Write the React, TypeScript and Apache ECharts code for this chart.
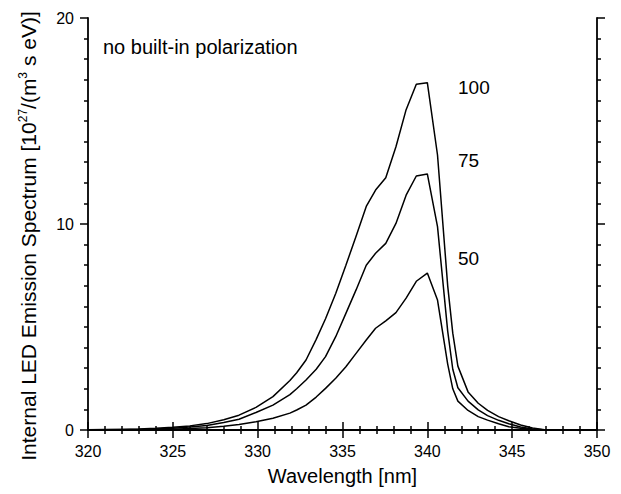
import React, { useEffect, useRef } from "react";
import * as echarts from "echarts";

const wavelength = [320, 321, 322, 323, 324, 325, 326, 327, 328, 328.9, 329.9, 330.9, 331.9, 332.3, 332.85, 333.45, 334.0, 334.6, 335.2, 335.8, 336.4, 336.95, 337.55, 338.15, 338.75, 339.35, 340.0, 340.6, 341.2, 341.5, 341.8, 342.4, 343.0, 343.55, 344.2, 344.8, 345.5, 346.2, 347.0];

const spectrum100 = [0.01, 0.02, 0.03, 0.05, 0.08, 0.13, 0.2, 0.31, 0.5, 0.72, 1.1, 1.62, 2.4, 2.78, 3.4, 4.4, 5.4, 6.63, 8.0, 9.4, 10.85, 11.65, 12.25, 13.75, 15.55, 16.78, 16.86, 13.35, 7.0, 4.7, 3.1, 1.85, 1.3, 0.95, 0.65, 0.45, 0.24, 0.1, 0];
const spectrum75 = [0.005, 0.01, 0.02, 0.03, 0.05, 0.09, 0.14, 0.22, 0.36, 0.52, 0.85, 1.21, 1.72, 2.0, 2.43, 2.95, 3.56, 4.53, 5.66, 6.8, 8.0, 8.58, 9.06, 10.03, 11.4, 12.33, 12.43, 9.87, 4.8, 2.95, 2.05, 1.4, 0.98, 0.7, 0.47, 0.3, 0.15, 0.05, 0];
const spectrum50 = [0.003, 0.005, 0.01, 0.015, 0.025, 0.04, 0.07, 0.11, 0.18, 0.27, 0.4, 0.57, 0.82, 0.97, 1.21, 1.6, 2.02, 2.51, 3.07, 3.72, 4.37, 4.94, 5.3, 5.7, 6.4, 7.22, 7.62, 6.31, 3.2, 2.0, 1.4, 0.95, 0.65, 0.48, 0.3, 0.16, 0.08, 0.03, 0];

const curveLabels = ["100", "75", "50"];
const xTicks = { min: 320, max: 350, interval: 5 };
const yTicks = { min: 0, max: 20, interval: 10 };

const FONT = "'Liberation Sans', Arial, Helvetica, sans-serif";

export default function App() {
  const ref = useRef<HTMLDivElement>(null);
  useEffect(() => {
    if (!ref.current) return;
    const chart = echarts.init(ref.current, undefined, { renderer: "svg" });
    const pair = (ys: number[]) => wavelength.map((x, i) => [x, ys[i]]);
    const axisLine = { show: true, lineStyle: { color: "#000", width: 1.8 } };
    const tickStyle = { color: "#000", width: 1.5 };
    const baseX = {
      type: "value" as const,
      min: xTicks.min,
      max: xTicks.max,
      interval: xTicks.interval,
      axisLine,
      axisTick: { show: true, length: 8, lineStyle: tickStyle },
      minorTick: { show: true, splitNumber: 5, length: 4, lineStyle: tickStyle },
      splitLine: { show: false },
    };
    const baseY = {
      type: "value" as const,
      min: yTicks.min,
      max: yTicks.max,
      interval: yTicks.interval,
      axisLine,
      axisTick: { show: true, length: 8, lineStyle: tickStyle },
      minorTick: { show: true, splitNumber: 10, length: 4, lineStyle: tickStyle },
      splitLine: { show: false },
    };
    const series = [spectrum100, spectrum75, spectrum50].map((ys, i) => ({
      name: curveLabels[i],
      type: "line" as const,
      data: pair(ys),
      showSymbol: false,
      symbol: "none",
      lineStyle: { color: "#000", width: 1.5 },
      xAxisIndex: 0,
      yAxisIndex: 0,
      z: 3,
    }));
    const labelPos = [87, 160, 258];
    chart.setOption({
      animation: false,
      backgroundColor: "#fff",
      grid: { left: 88, right: 24, top: 18, bottom: 64, containLabel: false },
      xAxis: [
        {
          ...baseX,
          position: "bottom",
          axisLabel: { show: true, color: "#000", fontSize: 16, fontFamily: FONT, margin: 13 },
          name: "Wavelength [nm]",
          nameLocation: "middle",
          nameGap: 36,
          nameTextStyle: { color: "#000", fontSize: 20, fontFamily: FONT },
        },
        { ...baseX, position: "top", axisLabel: { show: false } },
      ],
      yAxis: [
        {
          ...baseY,
          position: "left",
          axisLabel: { show: true, color: "#000", fontSize: 16, fontFamily: FONT, margin: 14 },
        },
        { ...baseY, position: "right", axisLabel: { show: false } },
      ],
      graphic: [
        {
          type: "text",
          x: 28,
          y: 236,
          rotation: Math.PI / 2,
          style: {
            text: "Internal LED Emission Spectrum [10{sup|27}/(m{sup|3} s eV)]",
            fill: "#000",
            fontSize: 21,
            fontFamily: FONT,
            align: "center",
            verticalAlign: "middle",
            rich: {
              sup: { fontSize: 12, fontFamily: FONT, fill: "#000", verticalAlign: "top", lineHeight: 22 },
            },
          },
        },
        {
          type: "text",
          x: 103,
          y: 47,
          style: { text: "no built-in polarization", fill: "#000", fontSize: 20, fontFamily: FONT, verticalAlign: "middle" },
        },
        ...curveLabels.map((t, i) => ({
          type: "text",
          x: 458,
          y: labelPos[i],
          style: { text: t, fill: "#000", fontSize: 19, fontFamily: FONT, verticalAlign: "middle" },
        })),
      ],
      series,
    });
    return () => chart.dispose();
  }, []);
  return <div ref={ref} style={{ width: 621, height: 494, position: "absolute", left: 0, top: 0 }} />;
}
